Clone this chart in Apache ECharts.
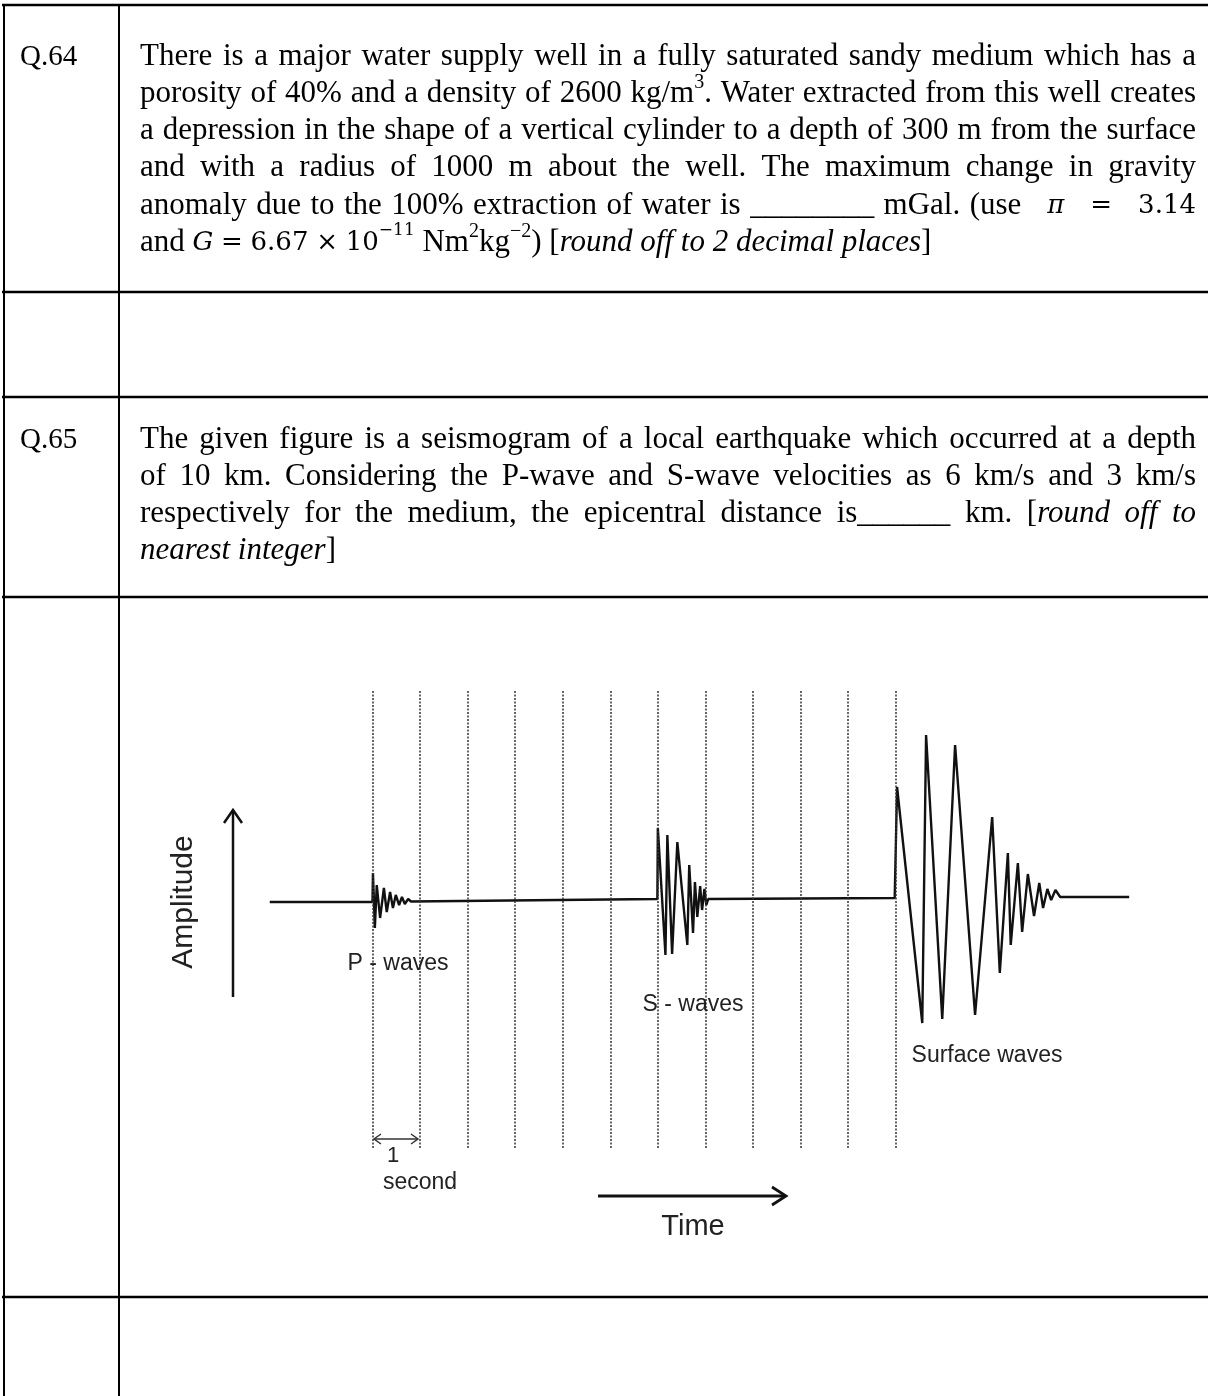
<!DOCTYPE html>
<html><head><meta charset="utf-8">
<script src="https://cdn.jsdelivr.net/npm/echarts@6/dist/echarts.min.js"></script>
<style>html,body{margin:0;padding:0;background:#fff}#c{width:1208px;height:1396px}</style>
</head><body><div id="c"></div>
<script>
// ---- data: seismogram trace (time in seconds from P onset, relative amplitude) ----
const secondMarks = [0,1,2,3,4,5,6,7,8,9,10,11];
const traceTime = [-2.16, 0.0, 0.01, 0.05, 0.09, 0.16, 0.24, 0.30, 0.37, 0.43, 0.49, 0.56, 0.62, 0.68, 0.75, 0.81,
  5.99, 6.0, 6.16, 6.20, 6.30, 6.41, 6.62, 6.66, 6.74, 6.78, 6.83, 6.89, 6.93, 6.98, 7.02, 7.06,
  10.98, 11.03, 11.56, 11.64, 11.98, 12.25, 12.67, 13.03, 13.19, 13.36, 13.42, 13.57, 13.66, 13.78, 13.91,
  14.02, 14.10, 14.19, 14.27, 14.36, 14.46, 15.91];
const traceAmp = [-0.2, -0.2, 2.7, -2.8, 1.5, -1.8, 1.2, -1.2, 0.8, -0.8, 0.5, -0.5, 0.3, -0.4, 0.1, -0.15,
  0.1, 7.2, -5.5, 6.5, -5.4, 5.8, -4.5, 3.5, -3.3, 1.8, -1.7, 1.4, -1.0, 1.1, -0.5, 0.1,
  0.2, 11.3, -12.3, 16.5, -11.9, 15.5, -11.5, 8.3, -7.3, 4.7, -4.5, 3.7, -3.2, 2.6, -1.6,
  1.7, -0.8, 1.1, 0.0, 1.0, 0.3, 0.3];
const waveLabels = ['P - waves', 'S - waves', 'Surface waves'];

// ---- question text ----
const W = s => s.split(' ').map(w => [[w, 'n']]);
const I = s => s.split(' ').map(w => [[w, 'i']]);
const q64Lines = [
  {tokens: W('There is a major water supply well in a fully saturated sandy medium which has a'), j: true},
  {tokens: [...W('porosity of 40% and a density of 2600'), [['kg/m','n'],['3','sup'],['.','n']], ...W('Water extracted from this well creates')], j: true},
  {tokens: W('a depression in the shape of a vertical cylinder to a depth of 300 m from the surface'), j: true},
  {tokens: W('and with a radius of 1000 m about the well. The maximum change in gravity'), j: true},
  {tokens: [...W('anomaly due to the 100% extraction of water is ________ mGal. (use'), [['  ','m'],['π','mi'],['  ','m']], [['=','m'],['  ','m']], [['3.14','m']]], j: true},
  {tokens: [[['and','n']], [['G','mi']], [['=','m']], [['6.67','m']], [['×','m']], [['10','m'],['−11','msup']],
            [['Nm','n'],['2','sup'],['kg','n'],['−2','sup'],[')','n']], [['[','n'],['round','i']], ...I('off to 2 decimal'), [['places','i'],[']','n']]], j: false}
];
const q65Lines = [
  {tokens: W('The given figure is a seismogram of a local earthquake which occurred at a depth'), j: true},
  {tokens: W('of 10 km. Considering the P-wave and S-wave velocities as 6 km/s and 3 km/s'), j: true},
  {tokens: [...W('respectively for the medium, the epicentral distance is______ km.'), [['[','n'],['round','i']], ...I('off to')], j: true},
  {tokens: [[['nearest','i']], [['integer','i'],[']','n']]], j: false}
];

const STY = {
  n:   {fam: '"Liberation Serif"', size: 31, st: 'normal', dy: 0},
  i:   {fam: '"Liberation Serif"', size: 31, st: 'italic', dy: 0},
  m:   {fam: '"DejaVu Serif"', size: 26, st: 'normal', dy: 0},
  mi:  {fam: '"DejaVu Serif"', size: 26, st: 'italic', dy: 0},
  sup: {fam: '"Liberation Serif"', size: 20, st: 'normal', dy: -11},
  msup:{fam: '"DejaVu Serif"', size: 17, st: 'normal', dy: -12}
};
const mctx = document.createElement('canvas').getContext('2d');
function runW(r) { const s = STY[r[1]]; mctx.font = s.st + ' normal ' + s.size + 'px ' + s.fam; return mctx.measureText(r[0]).width; }

const graphics = [];
function txt(x, y, text, o) {
  graphics.push(Object.assign({type: 'text', x: x, y: y, silent: true, z: 10,
    style: Object.assign({text: text, fill: '#000', align: 'left', verticalAlign: 'middle'}, o || {})}));
}
function layoutLines(lines, x0, x1, ys) {
  lines.forEach((ln, k) => {
    const ws = ln.tokens.map(t => t.reduce((s, r) => s + runW(r), 0));
    const tot = ws.reduce((a, b) => a + b, 0);
    const gap = ln.j ? (x1 - x0 - tot) / (ln.tokens.length - 1) : runW([' ', 'n']);
    let x = x0;
    ln.tokens.forEach((t, i) => {
      let cx = x;
      t.forEach(r => {
        const s = STY[r[1]];
        if (r[0].trim()) txt(cx, ys[k] + s.dy, r[0], {fontFamily: s.fam, fontSize: s.size, fontStyle: s.st});
        cx += runW(r);
      });
      x += ws[i] + gap;
    });
  });
}
layoutLines(q64Lines, 140, 1196, [57, 94, 131, 168, 206, 243]);
layoutLines(q65Lines, 140, 1196, [440, 477, 514, 551]);
txt(20, 57, 'Q.64', {fontFamily: '"Liberation Serif"', fontSize: 29});
txt(20, 440, 'Q.65', {fontFamily: '"Liberation Serif"', fontSize: 29});

// table rules
function ln(x1, y1, x2, y2, w, c) { graphics.push({type: 'line', silent: true, z: 5, shape: {x1, y1, x2, y2}, style: {stroke: c || '#000', lineWidth: w}}); }
function pl(pts, w, c) { graphics.push({type: 'polyline', silent: true, z: 5, shape: {points: pts}, style: {stroke: c || '#111', lineWidth: w, fill: null}}); }
[5, 292, 397, 597, 1297].forEach(y => ln(2, y, 1208, y, 2.6));
ln(4, 4, 4, 1396, 2);
ln(119, 4, 119, 1396, 2);

// figure annotations
const sans = '"Liberation Sans", Arial, sans-serif';
ln(233, 997, 233, 811, 2.5, '#111');
pl([[224, 823], [233, 810], [242, 823]], 2.5);
graphics.push({type: 'text', x: 184, y: 902, rotation: Math.PI / 2, silent: true, z: 10,
  style: {text: 'Amplitude', fill: '#222', fontFamily: sans, fontSize: 30, align: 'center', verticalAlign: 'middle'}});
ln(598, 1196, 785, 1196, 2.8, '#111');
pl([[772, 1187], [786, 1196], [772, 1205]], 2.8);
txt(693, 1227, 'Time', {fill: '#222', fontFamily: sans, fontSize: 29, align: 'center'});
ln(374, 1139, 418, 1139, 1.5, '#333');
pl([[381, 1134], [374, 1139], [381, 1144]], 1.5, '#333');
pl([[411, 1134], [418, 1139], [411, 1144]], 1.5, '#333');
txt(393, 1156, '1', {fill: '#222', fontFamily: sans, fontSize: 22, align: 'center'});
txt(420, 1183, 'second', {fill: '#222', fontFamily: sans, fontSize: 23, align: 'center'});
txt(398, 964, waveLabels[0], {fill: '#222', fontFamily: sans, fontSize: 23, align: 'center'});
txt(693, 1005, waveLabels[1], {fill: '#222', fontFamily: sans, fontSize: 23, align: 'center'});
txt(987, 1056, waveLabels[2], {fill: '#222', fontFamily: sans, fontSize: 23, align: 'center'});

const chart = echarts.init(document.getElementById('c'), null, {renderer: 'canvas'});
chart.setOption({
  animation: false,
  backgroundColor: '#fff',
  grid: {left: 229.8, right: 27, top: 690, bottom: 248},
  xAxis: {type: 'value', min: -3, max: 17, show: false},
  yAxis: {type: 'value', min: -24.8, max: 21, show: false},
  series: [{
    type: 'line',
    data: traceTime.map((t, i) => [t, traceAmp[i]]),
    showSymbol: false,
    symbol: 'none',
    lineStyle: {color: '#111', width: 2.4},
    z: 3,
    markLine: {
      silent: true,
      symbol: ['none', 'none'],
      label: {show: false},
      lineStyle: {color: '#333', type: [2, 1.5], width: 1.5},
      data: secondMarks.map(v => ({xAxis: v}))
    }
  }],
  graphic: graphics
});
</script></body></html>
